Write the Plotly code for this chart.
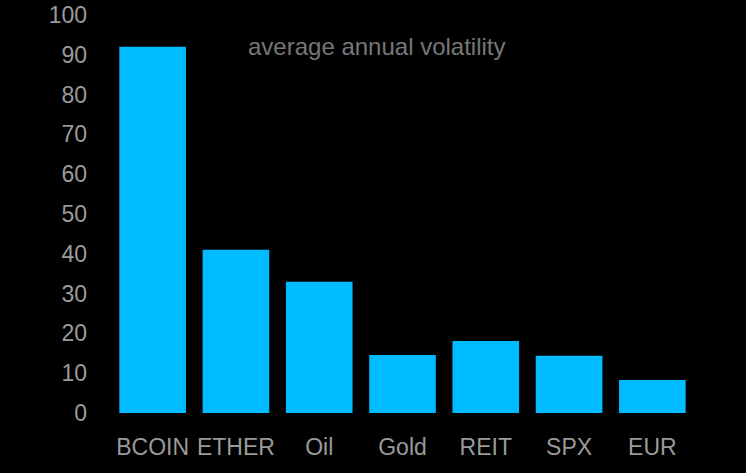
import plotly.graph_objects as go

categories = ["BCOIN", "ETHER", "Oil", "Gold", "REIT", "SPX", "EUR"]
volatility = [92, 41, 33, 14.6, 18.1, 14.4, 8.3]
y_ticks = [0, 10, 20, 30, 40, 50, 60, 70, 80, 90, 100]
title_text = "average annual volatility"

fig = go.Figure(
    go.Bar(
        x=categories,
        y=volatility,
        marker=dict(color="#00BBFF", line=dict(width=0)),
        hoverinfo="x+y",
    )
)

fig.update_layout(
    width=746,
    height=473,
    margin=dict(l=111, r=52, t=15, b=60, pad=0),
    paper_bgcolor="#000000",
    plot_bgcolor="#000000",
    bargap=0.2,
    showlegend=False,
    font=dict(family="Liberation Sans, Arial, sans-serif", size=23, color="#9a9a9a"),
    annotations=[
        dict(
            text=title_text,
            xref="paper",
            yref="paper",
            x=0.456,
            y=0.92,
            xanchor="center",
            yanchor="middle",
            showarrow=False,
            font=dict(family="Liberation Sans, Arial, sans-serif", size=24, color="#777777"),
        )
    ],
)

fig.update_xaxes(
    automargin=False,
    showgrid=False,
    zeroline=False,
    showline=False,
    ticks="",
    ticklabelstandoff=18,
    tickfont=dict(size=23, color="#9a9a9a"),
)
fig.update_yaxes(
    automargin=False,
    range=[0, 100],
    tickvals=y_ticks,
    showgrid=False,
    zeroline=False,
    showline=False,
    ticks="",
    ticklabelstandoff=23,
    tickfont=dict(size=23, color="#9a9a9a"),
)

page_style = (
    "document.body.style.margin='0';"
    "document.body.style.padding='0';"
    "document.body.style.background='#000000';"
    "document.body.style.overflow='hidden';"
)

fig.write_html("out.html", post_script=page_style, config={"displayModeBar": False})
